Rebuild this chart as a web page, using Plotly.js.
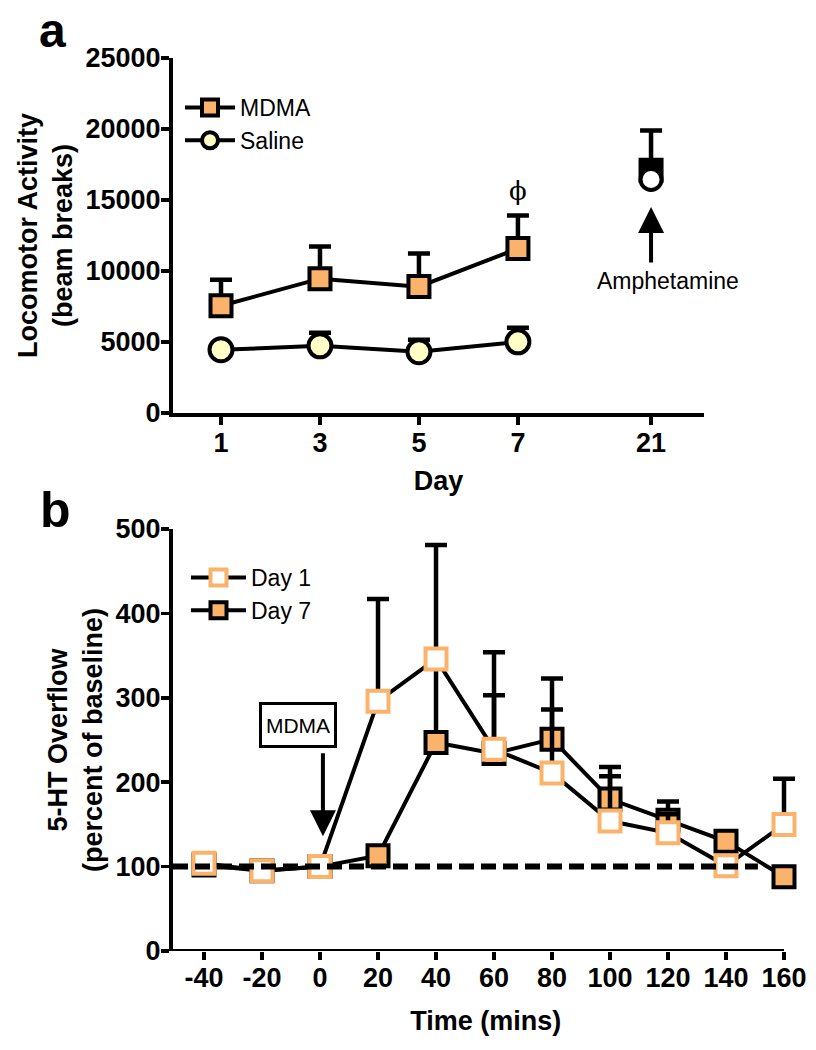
<!DOCTYPE html>
<html>
<head>
<meta charset="utf-8">
<script src="https://cdn.plot.ly/plotly-3.0.1.min.js"></script>
<style>
  body { margin: 0; background: #fff; }
  #chart { width: 816px; height: 1050px; }
</style>
</head>
<body>
<div id="chart"></div>
<script>
// panel a: locomotor activity (days 1-7 share an axis; day 21 sits after a break)
let days = [1, 3, 5, 7]
let dayTickPos = [1, 3, 5, 7, 9.69]
let dayTickText = ['1', '3', '5', '7', '21']
let mdma = [7550, 9460, 8900, 11580]
let mdmaErr = [1840, 2260, 2330, 2330]
let saline = [4450, 4730, 4310, 5010]
let salineErr = [300, 920, 850, 990]
let amphPos = [9.69]
let mdmaAmph = [17100]
let mdmaAmphErr = [2800]
let salineAmph = [16450]
let salineAmphErr = [0]
let locoTicks = [0, 5000, 10000, 15000, 20000, 25000]

// panel b: 5-HT overflow
let mins = [-40, -20, 0, 20, 40, 60, 80, 100, 120, 140, 160]
let day1 = [104, 95, 100, 296, 346, 239, 211, 154, 140, 101, 150]
let day1Err = [4, 4, 4, 121, 135, 115, 75, 53, 22, 4, 54]
let day7 = [102, 95, 100, 113, 247, 234, 251, 180, 155, 130, 88]
let day7Err = [3, 3, 3, 8, 95, 69, 72, 38, 22, 8, 4]
let baseX = [-50.7, 151]
let baseY = [100, 100]
let timeEnd = 160

let orange = '#FBB36B'
let cream = '#FFFFC6'
let fnt = 'Liberation Sans, Arial, sans-serif'

function upperErr(arr) {
  return {type: 'data', symmetric: false, array: arr, arrayminus: arr.map(() => 0),
          color: '#000', thickness: 4.5, width: 11}
}

let traces = [
  {x: days, y: mdma, name: 'MDMA', type: 'scatter', mode: 'lines+markers',
   line: {color: '#000', width: 4}, error_y: upperErr(mdmaErr),
   marker: {symbol: 'square', size: 21, color: orange, line: {color: '#000', width: 4}},
   xaxis: 'x', yaxis: 'y', legend: 'legend', cliponaxis: false},
  {x: days, y: saline, name: 'Saline', type: 'scatter', mode: 'lines+markers',
   line: {color: '#000', width: 4}, error_y: upperErr(salineErr),
   marker: {symbol: 'circle', size: 23, color: cream, line: {color: '#000', width: 4}},
   xaxis: 'x', yaxis: 'y', legend: 'legend', cliponaxis: false},
  {x: amphPos, y: mdmaAmph, type: 'scatter', mode: 'markers', showlegend: false,
   error_y: upperErr(mdmaAmphErr),
   marker: {symbol: 'square', size: 21, color: '#000', line: {color: '#000', width: 4}},
   xaxis: 'x', yaxis: 'y', cliponaxis: false},
  {x: amphPos, y: salineAmph, type: 'scatter', mode: 'markers', showlegend: false,
   error_y: upperErr(salineAmphErr),
   marker: {symbol: 'circle', size: 21, color: '#fff', line: {color: '#000', width: 4}},
   xaxis: 'x', yaxis: 'y', cliponaxis: false},

  {x: mins, y: day7, name: 'Day 7', type: 'scatter', mode: 'lines+markers', legendrank: 2,
   line: {color: '#000', width: 4}, error_y: upperErr(day7Err),
   marker: {symbol: 'square', size: 21, color: orange, line: {color: '#000', width: 4}},
   xaxis: 'x2', yaxis: 'y2', legend: 'legend2', cliponaxis: false},
  {x: mins, y: day1, name: 'Day 1', type: 'scatter', mode: 'lines+markers', legendrank: 1,
   line: {color: '#000', width: 4}, error_y: upperErr(day1Err),
   marker: {symbol: 'square', size: 21, color: '#fff', line: {color: orange, width: 4}},
   xaxis: 'x2', yaxis: 'y2', legend: 'legend2', cliponaxis: false},
  {x: baseX, y: baseY, type: 'scatter', mode: 'lines', showlegend: false, hoverinfo: 'skip',
   line: {color: '#000', width: 6, dash: '15px,7px'}, xaxis: 'x2', yaxis: 'y2'}
]

let axisStyle = {
  showline: true, linecolor: '#000', linewidth: 4, showgrid: false, zeroline: false,
  ticks: 'outside', ticklen: 8, tickwidth: 3.5, tickcolor: '#000', ticklabelstandoff: -5,
  tickfont: {family: fnt, size: 27, color: '#000', weight: 'bold'}
}
let titleFont = {family: fnt, size: 27, color: '#000', weight: 'bold'}

// x2 is drawn a little past 160 so the last error bar is not clipped;
// its visible axis line is a shape that stops at 160
let pxPerMin = (784 - 173) / (160 + 50.7)
let x2Right = 165

let layout = {
  width: 816, height: 1050,
  margin: {l: 0, r: 0, t: 0, b: 0},
  paper_bgcolor: '#fff', plot_bgcolor: '#fff',
  font: {family: fnt, color: '#000'},
  xaxis: Object.assign({}, axisStyle, {
    domain: [173 / 816, 704 / 816], range: [0.03, 10.76],
    tickmode: 'array', tickvals: dayTickPos, ticktext: dayTickText,
    title: {text: 'Day', font: titleFont, standoff: 15}, anchor: 'y'
  }),
  yaxis: Object.assign({}, axisStyle, {
    domain: [1 - 413 / 1050, 1 - 58 / 1050], range: [0, 25000],
    tickmode: 'array', tickvals: locoTicks, ticktext: locoTicks.map(String),
    title: {text: 'Locomotor Activity<br>(beam breaks)', font: titleFont, standoff: 6}, anchor: 'x'
  }),
  xaxis2: Object.assign({}, axisStyle, {
    domain: [173 / 816, (173 + pxPerMin * (x2Right + 50.7)) / 816], range: [-50.7, x2Right],
    showline: false,
    tickmode: 'array', tickvals: mins, ticktext: mins.map(String),
    title: {text: 'Time (mins)', font: titleFont, standoff: 18}, anchor: 'y2'
  }),
  yaxis2: Object.assign({}, axisStyle, {
    domain: [1 - 951 / 1050, 1 - 529 / 1050], range: [0, 500], dtick: 100,
    title: {text: '5-HT Overflow<br>(percent of baseline)', font: titleFont, standoff: 6}, anchor: 'x2'
  }),
  shapes: [
    {type: 'line', xref: 'x2', yref: 'y2', x0: -50.7, x1: timeEnd, y0: 0, y1: 0,
     line: {color: '#000', width: 4}}
  ],
  legend: {x: 180 / 816, y: 1 - 86 / 1050, xanchor: 'left', yanchor: 'top',
           font: {family: fnt, size: 23, color: '#000'}, bgcolor: 'rgba(0,0,0,0)', itemwidth: 50},
  legend2: {x: 186 / 816, y: 1 - 556 / 1050, xanchor: 'left', yanchor: 'top',
            font: {family: fnt, size: 23, color: '#000'}, bgcolor: 'rgba(0,0,0,0)', itemwidth: 55},
  annotations: [
    {xref: 'paper', yref: 'paper', x: 52 / 816, y: 1 - 2 / 1050, text: 'a', showarrow: false,
     xanchor: 'center', yanchor: 'top',
     font: {family: fnt, size: 48, color: '#000', weight: 'bold'}},
    {xref: 'paper', yref: 'paper', x: 55 / 816, y: 1 - 510 / 1050, text: 'b', showarrow: false,
     xanchor: 'center', yanchor: 'middle',
     font: {family: fnt, size: 50, color: '#000', weight: 'bold'}},
    {xref: 'x', yref: 'y', x: 7, y: 15650, text: 'ϕ', showarrow: false,
     font: {family: 'DejaVu Serif, serif', size: 26, color: '#000'}},
    {xref: 'x', yref: 'y', x: 9.69, y: 14500, axref: 'x', ayref: 'y', ax: 9.69, ay: 10500,
     text: '', showarrow: true, arrowhead: 2, arrowsize: 1.3, arrowwidth: 4, arrowcolor: '#000'},
    {xref: 'x', yref: 'y', x: 10.03, y: 9300, text: 'Amphetamine', showarrow: false,
     font: {family: fnt, size: 23, color: '#000'}},
    {xref: 'x2', yref: 'y2', x: -7.6, y: 268, text: 'MDMA', showarrow: false,
     width: 64, height: 32, bordercolor: '#000', borderwidth: 3, borderpad: 4, bgcolor: '#fff',
     font: {family: fnt, size: 21, color: '#000'}},
    {xref: 'x2', yref: 'y2', x: 1, y: 136, axref: 'x2', ayref: 'y2', ax: 1, ay: 236,
     text: '', showarrow: true, arrowhead: 2, arrowsize: 1.3, arrowwidth: 4, arrowcolor: '#000'}
  ],
  showlegend: true
}

Plotly.newPlot('chart', traces, layout, {displayModeBar: false, staticPlot: true})
</script>
</body>
</html>
